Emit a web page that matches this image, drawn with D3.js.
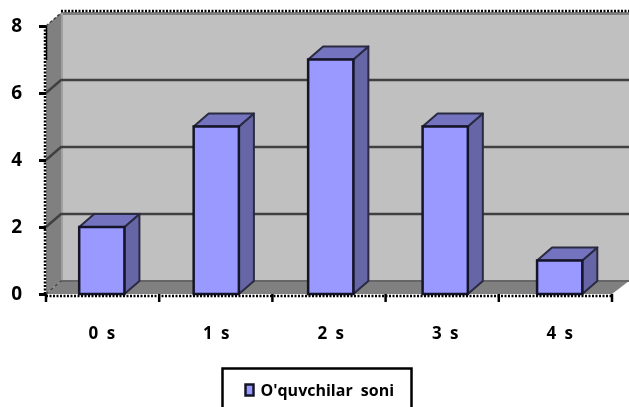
<!DOCTYPE html>
<html><head><meta charset="utf-8">
<script src="https://cdn.jsdelivr.net/npm/d3@7/dist/d3.min.js"></script>
<style>html,body{margin:0;padding:0;background:#fff}svg{display:block;filter:blur(0.35px)}
text{font-family:"Open Sans",sans-serif;font-weight:700;fill:#000}</style>
</head><body><svg id="c" width="629" height="407"></svg>
<script>
const categories = ["0 s","1 s","2 s","3 s","4 s"];
const values = [2,5,7,5,1];
const yTicks = [0,2,4,6,8];
const seriesName = "O'quvchilar soni";

const svg = d3.select("#c");
const dx = 15, dy = -13;
const x = d3.scaleBand().domain(categories).range([46,615.5]).paddingInner(0.605).paddingOuter(0.29);
const xb = d3.scaleBand().domain(categories).range([46,612]);
const y = d3.scaleLinear().domain([0,8]).range([294,26]);
const rightBack = 629;
const c = {wall:"#c0c0c0", side:"#808080", bar:"#9999ff", top:"#7373bf", right:"#6666a6", grid:"#404040", edge:"#2a2a40"};
const pts = a => a.map(p=>p.join(",")).join(" ");

// back wall, left wall, floor
svg.append("rect").attr("x",46+dx).attr("y",y(8)+dy).attr("width",rightBack-46-dx).attr("height",y(0)-y(8)).attr("fill",c.wall);
svg.append("polygon").attr("points",pts([[46,y(8)],[46+dx,y(8)+dy],[46+dx,y(0)+dy],[46,y(0)]])).attr("fill",c.side);
svg.append("polygon").attr("points",pts([[46,y(0)],[46+dx,y(0)+dy],[rightBack,y(0)+dy],[612,y(0)]])).attr("fill",c.side);
svg.append("line").attr("x1",46+dx).attr("x2",rightBack).attr("y1",y(8)+dy+.5).attr("y2",y(8)+dy+.5).attr("stroke","#808080").attr("stroke-width",3);
svg.append("line").attr("x1",46+dx+1).attr("x2",46+dx+1).attr("y1",y(8)+dy).attr("y2",y(0)+dy).attr("stroke","#a0a0a0").attr("stroke-width",2);
svg.append("line").attr("x1",46+dx).attr("x2",rightBack).attr("y1",y(0)+dy).attr("y2",y(0)+dy).attr("stroke","#666").attr("stroke-width",2);

// gridlines
yTicks.filter(t=>t>0&&t<8).forEach(t=>{
  svg.append("polyline").attr("fill","none").attr("stroke",c.grid).attr("stroke-width",2.5)
    .attr("points",pts([[46,y(t)],[46+dx,y(t)+dy],[rightBack,y(t)+dy]]));
});
svg.append("line").attr("x1",46).attr("y1",y(8)).attr("x2",46+dx).attr("y2",y(8)+dy).attr("stroke",c.grid).attr("stroke-dasharray","3 2").attr("stroke-width",1.5);
svg.append("line").attr("x1",46).attr("y1",y(0)).attr("x2",46+dx).attr("y2",y(0)+dy).attr("stroke",c.grid).attr("stroke-dasharray","3 3").attr("stroke-width",1.2);

// bars
const bars = svg.selectAll("g.bar").data(categories.map((k,i)=>({k,v:values[i]}))).join("g").attr("class","bar");
bars.append("polygon").attr("fill",c.right).attr("stroke",c.edge).attr("stroke-width",2).attr("stroke-linejoin","round")
  .attr("points",d=>{const r=x(d.k)+x.bandwidth();return pts([[r,y(d.v)],[r+dx,y(d.v)+dy],[r+dx,y(0)+dy],[r,y(0)]]);});
bars.append("polygon").attr("fill",c.top).attr("stroke",c.edge).attr("stroke-width",2).attr("stroke-linejoin","round")
  .attr("points",d=>{const l=x(d.k),r=l+x.bandwidth();return pts([[l,y(d.v)],[l+dx,y(d.v)+dy],[r+dx,y(d.v)+dy],[r,y(d.v)]]);});
bars.append("rect").attr("fill",c.bar).attr("stroke","#15152a").attr("stroke-width",2.5)
  .attr("x",d=>x(d.k)).attr("y",d=>y(d.v)).attr("width",x.bandwidth()).attr("height",d=>y(0)-y(d.v));

// dotted top edge and axes
const dot = {stroke:"#000","stroke-width":2.5,"stroke-dasharray":"2 1.5"};
const dl = (x1,y1,x2,y2)=>{const l=svg.append("line").attr("x1",x1).attr("y1",y1).attr("x2",x2).attr("y2",y2);Object.entries(dot).forEach(([a,b])=>l.attr(a,b));return l;};
dl(61,11,629,11);
dl(45,26,45,294);
dl(46,296,612,296);
svg.append("line").attr("x1",46.5).attr("x2",46.5).attr("y1",y(8)).attr("y2",60).attr("stroke","#000").attr("stroke-width",1.5);

// axes ticks and labels
const yG = svg.append("g").attr("transform","translate(46,0)")
  .call(d3.axisLeft(y).tickValues(yTicks).tickSize(7).tickPadding(7).tickFormat(d3.format("d")));
yG.select(".domain").remove();
yG.selectAll("line").attr("stroke","#000").attr("stroke-width",3);
yG.selectAll("text").style("font-size","19px").attr("fill","#000").attr("dy","0.3em").attr("x",-24);

const tickPos = d3.range(categories.length+1).map(i=>46+i*xb.step());
svg.selectAll("line.xt").data(tickPos).join("line").attr("class","xt")
  .attr("x1",d=>d).attr("x2",d=>d).attr("y1",294).attr("y2",302).attr("stroke","#000").attr("stroke-width",2.5);
svg.selectAll("text.xl").data(categories).join("text").attr("class","xl")
  .attr("x",d=>x(d)+x.bandwidth()/2).attr("y",339).attr("text-anchor","middle")
  .style("font-size","17px").style("word-spacing","4px").text(d=>d);

// legend
svg.append("rect").attr("x",222.5).attr("y",368.5).attr("width",189).attr("height",44).attr("fill","#fff").attr("stroke","#000").attr("stroke-width",2.5);
svg.append("rect").attr("x",245.5).attr("y",384.5).attr("width",8).attr("height",11).attr("fill",c.bar).attr("stroke","#15152a").attr("stroke-width",2.5);
svg.append("text").attr("x",260.5).attr("y",396).style("font-size","16px").style("word-spacing","4px").text(seriesName);
</script></body></html>
